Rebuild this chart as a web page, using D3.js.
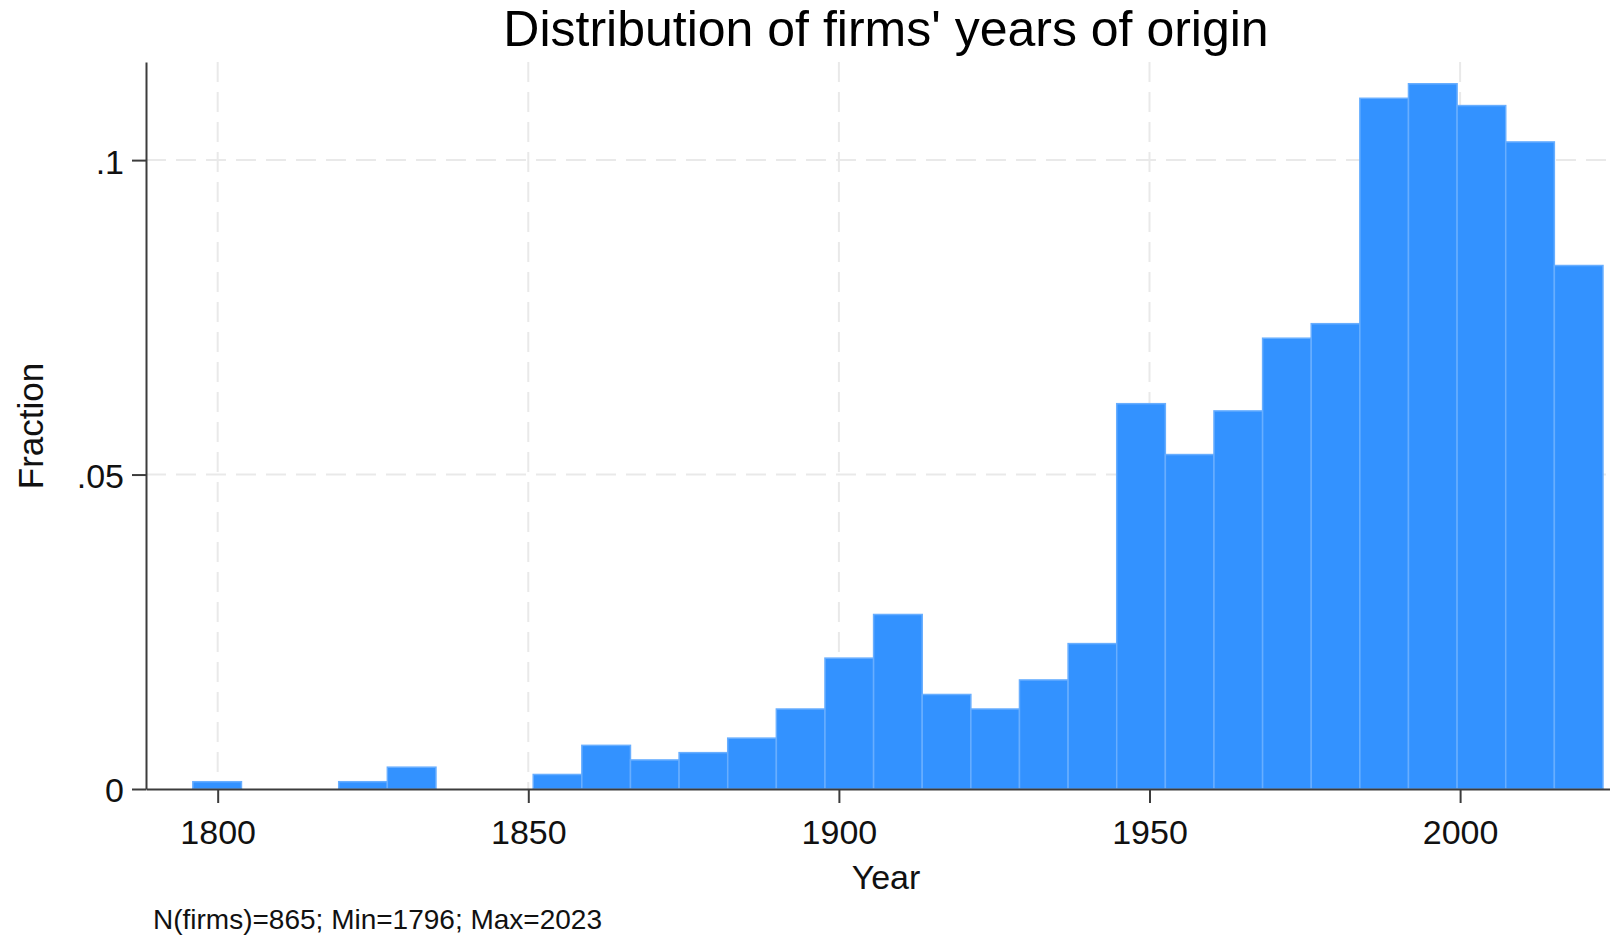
<!DOCTYPE html>
<html>
<head>
<meta charset="utf-8">
<script src="https://cdn.jsdelivr.net/npm/d3@7"></script>
<style>
  body { margin: 0; background: #fff; }
  svg { display: block; font-family: "Liberation Sans", Arial, sans-serif; }
  .grid line { stroke: #e9e9e9; stroke-width: 2; stroke-dasharray: 20,10; }
  .axis path, .axis line { stroke: #3c3c3c; stroke-width: 2; }
  .axis text { fill: #111; font-size: 34px; font-family: "Liberation Sans", Arial, sans-serif; }
</style>
</head>
<body>
<svg id="canvas" width="1610" height="936"></svg>
<script>
// histogram: 29 bins from first to last year
const minYear = 1796
const maxYear = 2023
const nBins = 29
const fractions = [
  0.00116, 0, 0, 0.00116, 0.00347, 0, 0, 0.00231, 0.00694, 0.00462,
  0.00578, 0.00809, 0.01272, 0.02081, 0.02775, 0.01503, 0.01272, 0.01734, 0.02312, 0.06127,
  0.05318, 0.06012, 0.07168, 0.07399, 0.10983, 0.11214, 0.10867, 0.10289, 0.08324
]
const xTicks = [1800, 1850, 1900, 1950, 2000]
const yTicks = [0, 0.05, 0.1]
const yTickLabels = ['0', '.05', '.1']

let canvas = d3.select('#canvas')

let binWidth = (maxYear - minYear) / nBins
let bins = fractions.map((f, i) => {
    return {x0: minYear + i * binWidth, x1: minYear + (i + 1) * binWidth, value: f}
})

let xScale = d3.scaleLinear().domain([1788.46, 2024.13]).range([146, 1610])
let yScale = d3.scaleLinear().domain([0, 0.1156]).range([789, 62])

// grid
let grid = canvas.append('g').attr('class', 'grid')
grid.selectAll('.gx')
    .data(xTicks)
    .enter()
    .append('line')
    .attr('x1', d => xScale(d)).attr('x2', d => xScale(d))
    .attr('y1', yScale.range()[1]).attr('y2', yScale(0))
grid.selectAll('.gy')
    .data(yTicks.filter(d => d > 0))
    .enter()
    .append('line')
    .attr('x1', xScale.range()[0]).attr('x2', xScale.range()[1])
    .attr('y1', d => yScale(d)).attr('y2', d => yScale(d))

// bars
canvas.append('g')
    .selectAll('rect')
    .data(bins.filter(b => b.value > 0))
    .enter()
    .append('rect')
    .attr('x', b => xScale(b.x0))
    .attr('y', b => yScale(b.value))
    .attr('width', b => xScale(b.x1) - xScale(b.x0))
    .attr('height', b => yScale(0) - yScale(b.value))
    .attr('fill', '#3392ff')
    .attr('stroke', '#68aeff')
    .attr('stroke-width', 1.5)

// axes
let xAxis = d3.axisBottom(xScale).tickValues(xTicks).tickFormat(d3.format('d'))
    .tickSize(14).tickSizeOuter(0).tickPadding(17)
canvas.append('g')
    .attr('class', 'axis')
    .attr('transform', 'translate(0,' + yScale(0) + ')')
    .call(xAxis)

let yAxis = d3.axisLeft(yScale).tickValues(yTicks).tickFormat((d, i) => yTickLabels[i])
    .tickSize(14).tickSizeOuter(0).tickPadding(8)
canvas.append('g')
    .attr('class', 'axis')
    .attr('transform', 'translate(' + xScale.range()[0] + ',0)')
    .call(yAxis)
    .selectAll('text').attr('dy', '0.38em')

// titles
canvas.append('text')
    .text("Distribution of firms' years of origin")
    .attr('x', 886).attr('y', 46)
    .attr('text-anchor', 'middle')
    .attr('font-size', 50)
    .attr('fill', '#000')

canvas.append('text')
    .text('Year')
    .attr('x', 886).attr('y', 889)
    .attr('text-anchor', 'middle')
    .attr('font-size', 34)
    .attr('fill', '#111')

canvas.append('text')
    .text('Fraction')
    .attr('transform', 'translate(43,426) rotate(-90)')
    .attr('text-anchor', 'middle')
    .attr('font-size', 35)
    .attr('fill', '#111')

canvas.append('text')
    .text('N(firms)=865; Min=1796; Max=2023')
    .attr('x', 153).attr('y', 929)
    .attr('font-size', 28)
    .attr('fill', '#111')
</script>
</body>
</html>
